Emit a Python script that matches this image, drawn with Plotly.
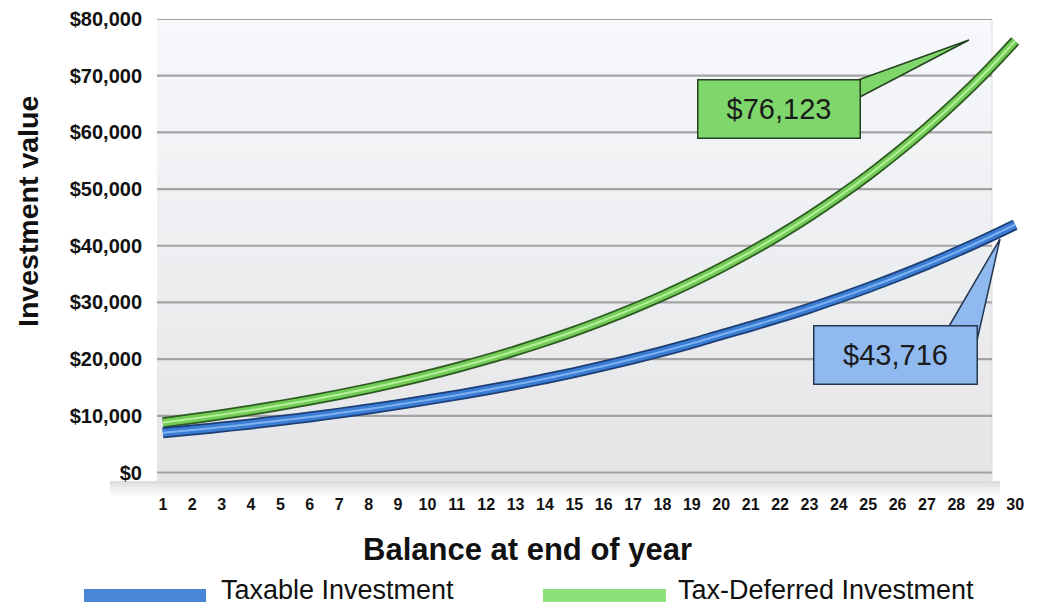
import plotly.graph_objects as go

# ---------------- data ----------------
years = list(range(1, 31))
taxable = [7000, 7490, 8010, 8570, 9160, 9800, 10480, 11200, 11980, 12800,
           13650, 14550, 15510, 16540, 17630, 18800, 20040, 21370, 22780, 24300,
           25780, 27340, 28990, 30750, 32610, 34580, 36670, 38890, 41240, 43716]
tax_deferred = [8800, 9480, 10210, 11000, 11850, 12760, 13750, 14810, 15950, 17180,
                18510, 19940, 21480, 23140, 24920, 26850, 28920, 31150, 33560, 36150,
                38940, 41950, 45190, 48680, 52430, 56480, 60840, 65540, 70600, 76123]
series_names = ["Taxable Investment", "Tax-Deferred Investment"]
callout_texts = ["$43,716", "$76,123"]
y_ticks = list(range(0, 80001, 10000))

# ---------------- layout geometry ----------------
OFF = 8  # page body margin of the browser
W, H = 1040 - OFF, 608 - OFF
ML, MR, MT, MB = 157 - OFF, 19, 19 - OFF, 127
PW, PH = W - ML - MR, H - MT - MB
FONT = "Liberation Sans, Arial, Helvetica, sans-serif"


def px(x):
    """window pixel x -> paper coordinate"""
    return (x - OFF - ML) / PW


def py(y):
    """window pixel y -> paper coordinate"""
    return (H - MB - (y - OFF)) / PH


fig = go.Figure()

# tube-like lines: dark edge, body, highlight
styles = {
    "Taxable Investment": ("#1d3f75", "#3b7dd4", "#7fb2f0"),
    "Tax-Deferred Investment": ("#2d5a20", "#74cc58", "#b4f09a"),
}
for name, vals in [("Tax-Deferred Investment", tax_deferred), ("Taxable Investment", taxable)]:
    dark, body, light = styles[name]
    fig.add_trace(go.Scatter(x=years, y=vals, mode="lines", line=dict(color=dark, width=11, shape="spline"),
                             showlegend=False, hoverinfo="skip"))
    fig.add_trace(go.Scatter(x=years, y=vals, mode="lines", line=dict(color=body, width=7.5, shape="spline"),
                             name=name, showlegend=False))
    fig.add_trace(go.Scatter(x=years, y=vals, mode="lines", line=dict(color=light, width=2, shape="spline"),
                             showlegend=False, hoverinfo="skip"))

shapes = []
# wall gradient
n = 30
top = (246, 248, 251)
bot = (229, 229, 231)
for i in range(n):
    t = i / (n - 1)
    c = tuple(int(round(bot[k] + (top[k] - bot[k]) * t)) for k in range(3))
    shapes.append(dict(type="rect", xref="paper", yref="paper", x0=0, x1=px(992),
                       y0=i / n, y1=(i + 1) / n + 0.002, fillcolor="rgb(%d,%d,%d)" % c,
                       line=dict(width=0), layer="below"))
# wall right edge
shapes.append(dict(type="line", xref="paper", yref="paper", x0=px(992), x1=px(992), y0=py(481), y1=1,
                   line=dict(color="#dcdcdc", width=1), layer="below"))
# floor shadow band
for i, a in enumerate([0.5, 0.38, 0.26, 0.15, 0.07]):
    shapes.append(dict(type="rect", xref="paper", yref="paper", x0=px(110), x1=px(1000),
                       y0=py(481 + 3 * (i + 1)), y1=py(481 + 3 * i), fillcolor="rgba(190,190,190,%.2f)" % a,
                       line=dict(width=0), layer="below"))
# gridlines on the back wall (placed by the y axis)
for v in y_ticks:
    shapes.append(dict(type="line", xref="paper", yref="y", x0=0, x1=px(992), y0=v, y1=v,
                       line=dict(color="#a3a3a3", width=2.2), layer="below"))

# callout wedges
shapes.append(dict(type="path", xref="paper", yref="paper",
                   path="M %f %f L %f %f L %f %f Z" % (px(858), py(80), px(969), py(40), px(858), py(98)),
                   fillcolor="#7fd66b", line=dict(color="#24401f", width=1.5), layer="above"))
shapes.append(dict(type="path", xref="paper", yref="paper",
                   path="M %f %f L %f %f L %f %f Z" % (px(948), py(328), px(1000), py(239), px(976), py(345)),
                   fillcolor="#8fb9ef", line=dict(color="#26364f", width=1.5), layer="above"))

# manual legend swatches
shapes.append(dict(type="rect", xref="paper", yref="paper", x0=px(84), x1=px(206),
                   y0=py(602), y1=py(589), fillcolor="#4a86d8", line=dict(width=0)))
shapes.append(dict(type="rect", xref="paper", yref="paper", x0=px(543), x1=px(666),
                   y0=py(602), y1=py(589), fillcolor="#8ee07a", line=dict(width=0)))

annotations = [
    # callout boxes
    dict(xref="paper", yref="paper", x=px(779), y=py(108.5), text=callout_texts[1], showarrow=False,
         font=dict(family=FONT, size=29, color="#1a1a1a"), bgcolor="#7fd66b",
         bordercolor="#24401f", borderwidth=1.5, borderpad=0, width=161, height=57,
         xanchor="center", yanchor="middle"),
    dict(xref="paper", yref="paper", x=px(895), y=py(355), text=callout_texts[0], showarrow=False,
         font=dict(family=FONT, size=29, color="#1a1a1a"), bgcolor="#8fb9ef",
         bordercolor="#26364f", borderwidth=1.5, borderpad=0, width=162, height=57,
         xanchor="center", yanchor="middle"),
    # axis titles
    dict(xref="paper", yref="paper", x=px(527), y=py(549), text="Balance at end of year", showarrow=False,
         font=dict(family=FONT, size=31, color="#111111", weight="bold"), xanchor="center", yanchor="middle"),
    dict(xref="paper", yref="paper", x=px(28), y=py(212), text="Investment value", showarrow=False,
         textangle=-90, font=dict(family=FONT, size=28.5, color="#111111", weight="bold"),
         xanchor="center", yanchor="middle"),
    # legend texts
    dict(xref="paper", yref="paper", x=px(219), y=py(590), text=series_names[0], showarrow=False,
         font=dict(family=FONT, size=27, color="#111111"), xanchor="left", yanchor="middle"),
    dict(xref="paper", yref="paper", x=px(676), y=py(590), text=series_names[1], showarrow=False,
         font=dict(family=FONT, size=27, color="#111111"), xanchor="left", yanchor="middle"),
]

fig.update_layout(
    width=W, height=H,
    margin=dict(l=ML, r=MR, t=MT, b=MB, autoexpand=False),
    paper_bgcolor="white",
    plot_bgcolor="rgba(0,0,0,0)",
    showlegend=False,
    shapes=shapes,
    annotations=annotations,
    font=dict(family=FONT, color="#111111"),
)
fig.update_xaxes(range=[0.8, 30.2], tickmode="array", tickvals=years, ticktext=[str(v) for v in years],
                 tickfont=dict(family=FONT, size=16, color="#111111", weight="bold"),
                 showgrid=False, zeroline=False, showline=False, ticks="", ticklabelstandoff=12)
fig.update_yaxes(range=[-1500, 80000], tickmode="array", tickvals=y_ticks,
                 ticktext=["${:,}".format(v) for v in y_ticks],
                 tickfont=dict(family=FONT, size=20, color="#111111", weight="bold"),
                 showgrid=False, zeroline=False, showline=False,
                 ticks="", ticklabelstandoff=14)

fig.write_html("out.html")
